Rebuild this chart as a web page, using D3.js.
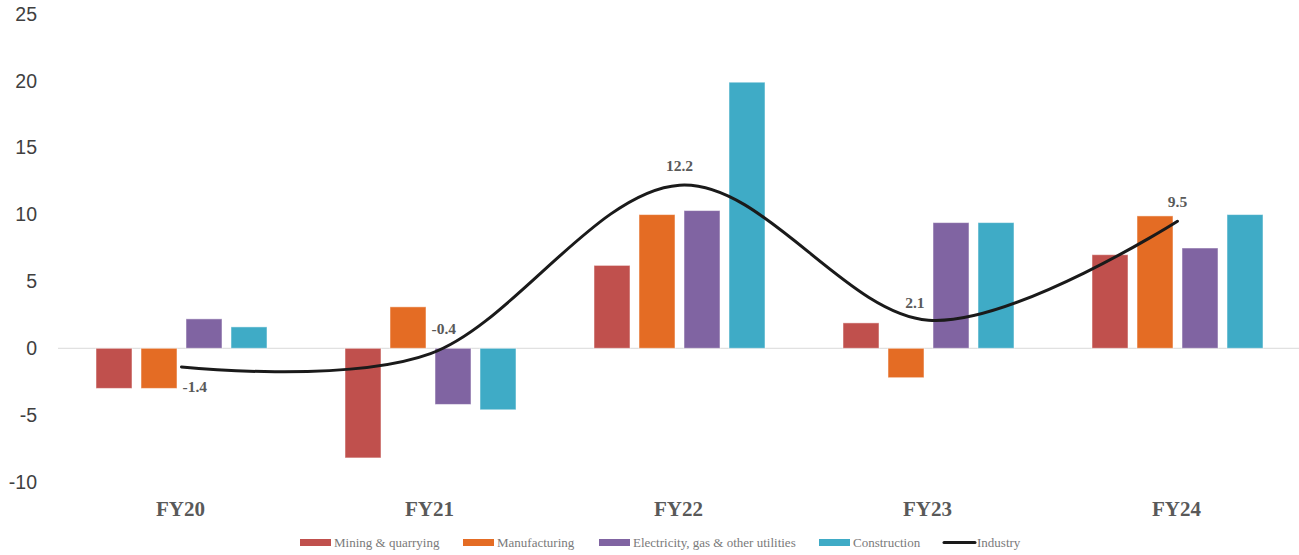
<!DOCTYPE html>
<html>
<head>
<meta charset="utf-8">
<script src="https://cdn.jsdelivr.net/npm/d3@7"></script>
<style>
  html, body { margin: 0; padding: 0; background: #fff; }
  svg { display: block; }
</style>
</head>
<body>
<svg id="chart" width="1299" height="555"></svg>
<script>
const categories = ["FY20", "FY21", "FY22", "FY23", "FY24"];
const seriesNames = ["Mining & quarrying", "Manufacturing", "Electricity, gas & other utilities", "Construction"];
const mining = [-3.0, -8.2, 6.2, 1.9, 7.0];
const manufacturing = [-3.0, 3.1, 10.0, -2.2, 9.9];
const electricity = [2.2, -4.2, 10.3, 9.4, 7.5];
const construction = [1.6, -4.6, 19.9, 9.4, 10.0];
const industry = [-1.4, -0.4, 12.2, 2.1, 9.5];
const yTicks = [-10, -5, 0, 5, 10, 15, 20, 25];
const industryName = "Industry";

const colors = ["#C0504D", "#E46C24", "#8064A2", "#3FABC6"];
const seriesValues = [mining, manufacturing, electricity, construction];
const labelPlacement = ["below-right", "above-right", "above", "above-left", "above"];

const loc = d3.formatLocale({ decimal: ".", thousands: ",", grouping: [3], currency: ["", ""], minus: "-" });
const fmt1 = loc.format(".1f");
const fmtInt = loc.format("d");

const svg = d3.select("#chart");

const y = d3.scaleLinear().domain([-10, 25]).range([482, 14]);
const x = d3.scaleBand().domain(categories).range([57, 1302]).padding(0);
const bw = x.bandwidth();
const x1 = d3.scaleBand().domain(seriesNames).range([bw / 2 - 90, bw / 2 + 90]).paddingInner(0.2).paddingOuter(0.1);

// zero line
svg.append("line")
  .attr("x1", 58).attr("x2", 1299)
  .attr("y1", y(0)).attr("y2", y(0))
  .attr("stroke", "#d9d9d9").attr("stroke-width", 1);

// y axis labels
const yAxis = d3.axisLeft(y).tickValues(yTicks).tickSize(0).tickPadding(0).tickFormat(fmtInt);
const yg = svg.append("g").attr("transform", "translate(37,0)").call(yAxis);
yg.select(".domain").remove();
yg.selectAll("text")
  .attr("font-family", "'Liberation Sans', Arial, sans-serif")
  .attr("font-size", 19.5)
  .attr("fill", "#404040");

// bars
const groups = svg.append("g").selectAll("g")
  .data(categories)
  .join("g")
  .attr("transform", d => `translate(${x(d)},0)`);

groups.selectAll("rect")
  .data((d, i) => seriesNames.map((s, j) => ({ s, j, v: seriesValues[j][i] })))
  .join("rect")
  .attr("x", d => x1(d.s))
  .attr("width", x1.bandwidth())
  .attr("y", d => y(Math.max(0, d.v)))
  .attr("height", d => Math.abs(y(d.v) - y(0)))
  .attr("fill", d => colors[d.j])
  .attr("stroke", "rgba(255,255,255,0.5)")
  .attr("stroke-width", 1);

// industry line
const line = d3.line()
  .x((d, i) => x(categories[i]) + bw / 2)
  .y(d => y(d))
  .curve(d3.curveCardinal.tension(0));

svg.append("path")
  .datum(industry)
  .attr("d", line)
  .attr("fill", "none")
  .attr("stroke", "#1a1a1a")
  .attr("stroke-width", 3)
  .attr("stroke-linecap", "round");

// line labels
const off = {
  "below-right": { dx: 1, dy: 19, anchor: "start" },
  "above-right": { dx: 1, dy: -25, anchor: "start" },
  "above": { dx: 0, dy: -20, anchor: "middle" },
  "above-left": { dx: -4, dy: -18, anchor: "end" }
};
svg.append("g").selectAll("text")
  .data(industry)
  .join("text")
  .attr("x", (d, i) => x(categories[i]) + bw / 2 + off[labelPlacement[i]].dx)
  .attr("y", (d, i) => y(d) + off[labelPlacement[i]].dy)
  .attr("text-anchor", (d, i) => off[labelPlacement[i]].anchor)
  .attr("dominant-baseline", "central")
  .attr("font-family", "'Liberation Serif', 'Times New Roman', serif")
  .attr("font-weight", "bold")
  .attr("font-size", 15.5)
  .attr("fill", "#595959")
  .text(d => fmt1(d));

// x axis labels
const xAxis = d3.axisBottom(x).tickSize(0).tickPadding(0);
const xg = svg.append("g").attr("transform", "translate(-1,509)").call(xAxis);
xg.select(".domain").remove();
xg.selectAll("text")
  .attr("dy", null)
  .attr("y", 0)
  .attr("dominant-baseline", "central")
  .attr("font-family", "'Liberation Serif', 'Times New Roman', serif")
  .attr("font-weight", "bold")
  .attr("font-size", 21)
  .attr("fill", "#595959");

// legend
const legendItems = [
  { name: seriesNames[0], color: colors[0], type: "rect", x: 300 },
  { name: seriesNames[1], color: colors[1], type: "rect", x: 463 },
  { name: seriesNames[2], color: colors[2], type: "rect", x: 599 },
  { name: seriesNames[3], color: colors[3], type: "rect", x: 819 },
  { name: industryName, color: "#1a1a1a", type: "line", x: 943 }
];
const lg = svg.append("g").attr("transform", "translate(0,542.5)");
const li = lg.selectAll("g").data(legendItems).join("g")
  .attr("transform", d => `translate(${d.x},0)`);
li.filter(d => d.type === "rect").append("rect")
  .attr("x", 0).attr("y", -3.5).attr("width", 31).attr("height", 7)
  .attr("fill", d => d.color);
li.filter(d => d.type === "line").append("line")
  .attr("x1", 1).attr("x2", 32).attr("y1", 0).attr("y2", 0)
  .attr("stroke", d => d.color).attr("stroke-width", 3).attr("stroke-linecap", "round");
li.append("text")
  .attr("x", 34)
  .attr("y", 0)
  .attr("dominant-baseline", "central")
  .attr("font-family", "'Liberation Serif', 'Times New Roman', serif")
  .attr("font-size", 13)
  .attr("fill", "#7a7a7a")
  .text(d => d.name);
</script>
</body>
</html>
